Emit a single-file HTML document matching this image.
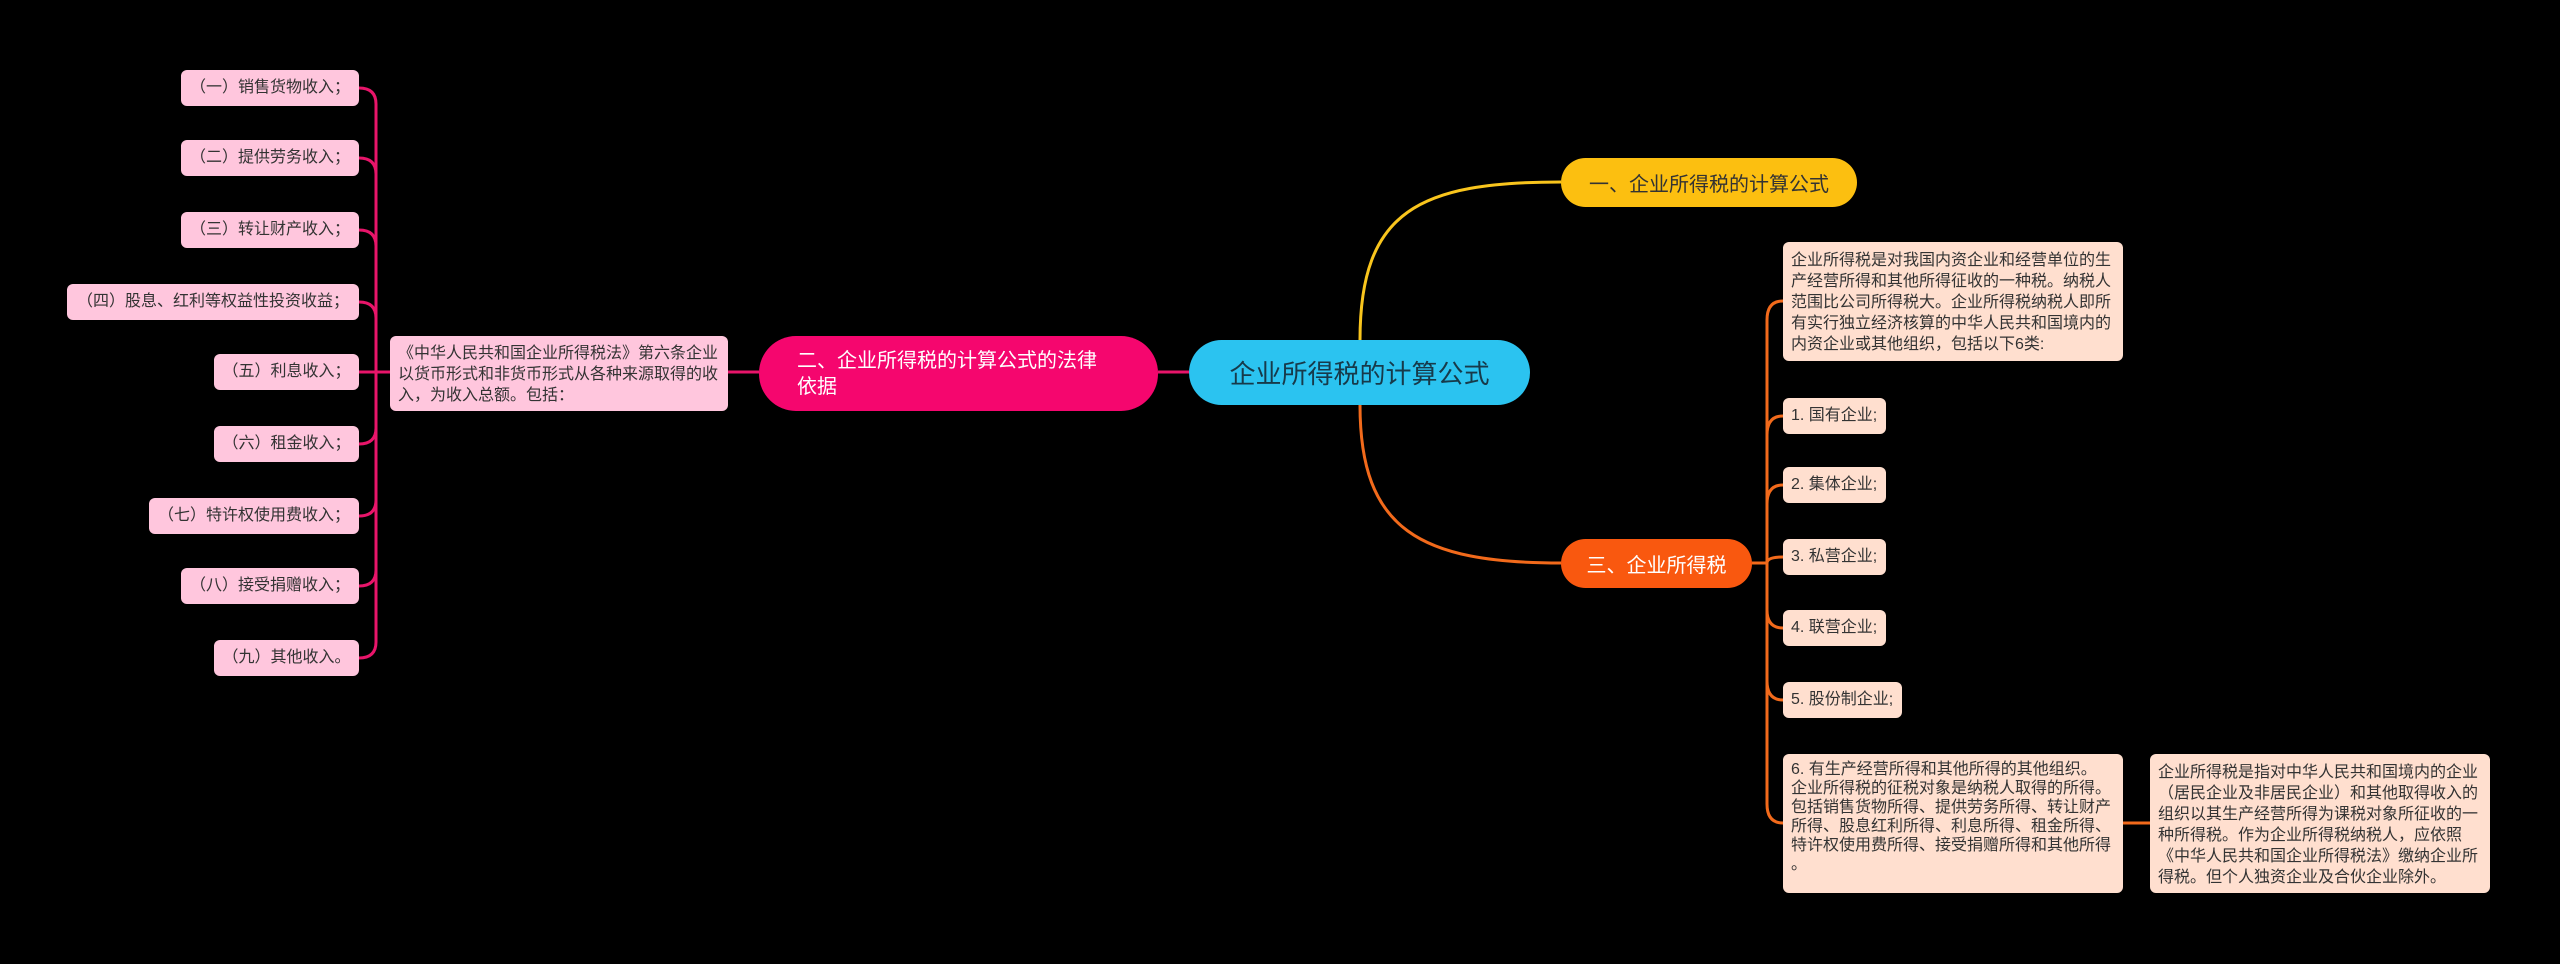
<!DOCTYPE html>
<html><head><meta charset="utf-8"><style>
body{margin:0;width:2560px;height:964px;background:#000;overflow:hidden;position:relative;font-family:"Liberation Sans","Noto Sans CJK SC",sans-serif;}
.n{position:absolute;box-sizing:border-box;border-radius:6px;font-size:16px;line-height:21px;color:#333;}
.l{background:#ffc6dd;height:36px;line-height:36px;text-align:center;right:2201px;}
.r{background:#ffdfcf;padding:8px 8px;}
.b{position:absolute;box-sizing:border-box;display:flex;align-items:center;}
</style></head><body>
<svg width="2560" height="964" style="position:absolute;left:0;top:0">
<g fill="none" stroke-width="3">
<path d="M1360 340 C1360 210 1420 182 1561 182" stroke="#f9c51d"/>
<path d="M1360 405 C1360 530 1420 563 1561 563" stroke="#f26a1b"/>
<path d="M1158 372 L1189 372 M728 372 L759 372" stroke="#e8156a"/>
<path d="M359 372 L390 372" stroke="#e8156a"/>
<path d="M359 88 Q376 88 376 104 L376 642 Q376 658 359 658 M359 158 Q376 158 376 174 M359 230 Q376 230 376 246 M359 302 Q376 302 376 318 M359 444 Q376 444 376 428 M359 516 Q376 516 376 500 M359 586 Q376 586 376 570" stroke="#e8156a"/>
<path d="M1752 563 L1767 563 M1783 301 Q1767 301 1767 320 L1767 804 Q1767 823 1783 823 M1783 416 Q1767 416 1767 435 M1783 485 Q1767 485 1767 504 M1783 557 Q1767 557 1767 563 M1783 628 Q1767 628 1767 610 M1783 700 Q1767 700 1767 681 M2123 823 L2150 823" stroke="#f26a1b"/>
</g></svg>
<div class="b" style="left:1189px;top:340px;width:341px;height:65px;background:#2bc3f0;border-radius:33px;justify-content:center;font-size:26px;color:#173a4a;">企业所得税的计算公式</div>
<div class="b" style="left:1561px;top:158px;width:296px;height:49px;background:#fcbf10;border-radius:25px;justify-content:center;font-size:20px;color:#333;">一、企业所得税的计算公式</div>
<div class="b" style="left:1561px;top:539px;width:191px;height:49px;background:#f9580f;border-radius:25px;justify-content:center;font-size:20px;color:#fff;">三、企业所得税</div>
<div class="b" style="left:759px;top:336px;width:399px;height:75px;background:#f5066e;border-radius:37px;padding-left:38px;font-size:20px;line-height:26px;color:#fff;">二、企业所得税的计算公式的法律<br>依据</div>
<div class="n" style="left:390px;top:336px;width:338px;height:75px;background:#ffc6dd;padding:7px 8px;">《中华人民共和国企业所得税法》第六条企业以货币形式和非货币形式从各种来源取得的收入，为收入总额。包括：</div>
<div class="n l" style="top:70px;width:178px;">（一）销售货物收入；</div>
<div class="n l" style="top:140px;width:178px;">（二）提供劳务收入；</div>
<div class="n l" style="top:212px;width:178px;">（三）转让财产收入；</div>
<div class="n l" style="top:284px;width:292px;">（四）股息、红利等权益性投资收益；</div>
<div class="n l" style="top:354px;width:145px;">（五）利息收入；</div>
<div class="n l" style="top:426px;width:145px;">（六）租金收入；</div>
<div class="n l" style="top:498px;width:210px;">（七）特许权使用费收入；</div>
<div class="n l" style="top:568px;width:178px;">（八）接受捐赠收入；</div>
<div class="n l" style="top:640px;width:145px;">（九）其他收入。</div>
<div class="n r" style="left:1783px;top:242px;width:340px;height:119px;">企业所得税是对我国内资企业和经营单位的生产经营所得和其他所得征收的一种税。纳税人范围比公司所得税大。企业所得税纳税人即所有实行独立经济核算的中华人民共和国境内的内资企业或其他组织，包括以下6类:</div>
<div class="n r" style="left:1783px;top:398px;width:103px;height:36px;padding-top:7px;">1. 国有企业;</div>
<div class="n r" style="left:1783px;top:467px;width:103px;height:36px;padding-top:7px;">2. 集体企业;</div>
<div class="n r" style="left:1783px;top:539px;width:103px;height:36px;padding-top:7px;">3. 私营企业;</div>
<div class="n r" style="left:1783px;top:610px;width:103px;height:36px;padding-top:7px;">4. 联营企业;</div>
<div class="n r" style="left:1783px;top:682px;width:119px;height:36px;padding-top:7px;">5. 股份制企业;</div>
<div class="n r" style="left:1783px;top:754px;width:340px;height:139px;padding-top:6px;line-height:19px;white-space:nowrap;">6. 有生产经营所得和其他所得的其他组织。<br>企业所得税的征税对象是纳税人取得的所得。<br>包括销售货物所得、提供劳务所得、转让财产<br>所得、股息红利所得、利息所得、租金所得、<br>特许权使用费所得、接受捐赠所得和其他所得<br>。</div>
<div class="n r" style="left:2150px;top:754px;width:340px;height:139px;">企业所得税是指对中华人民共和国境内的企业（居民企业及非居民企业）和其他取得收入的组织以其生产经营所得为课税对象所征收的一种所得税。作为企业所得税纳税人，应依照《中华人民共和国企业所得税法》缴纳企业所得税。但个人独资企业及合伙企业除外。</div>
</body></html>
